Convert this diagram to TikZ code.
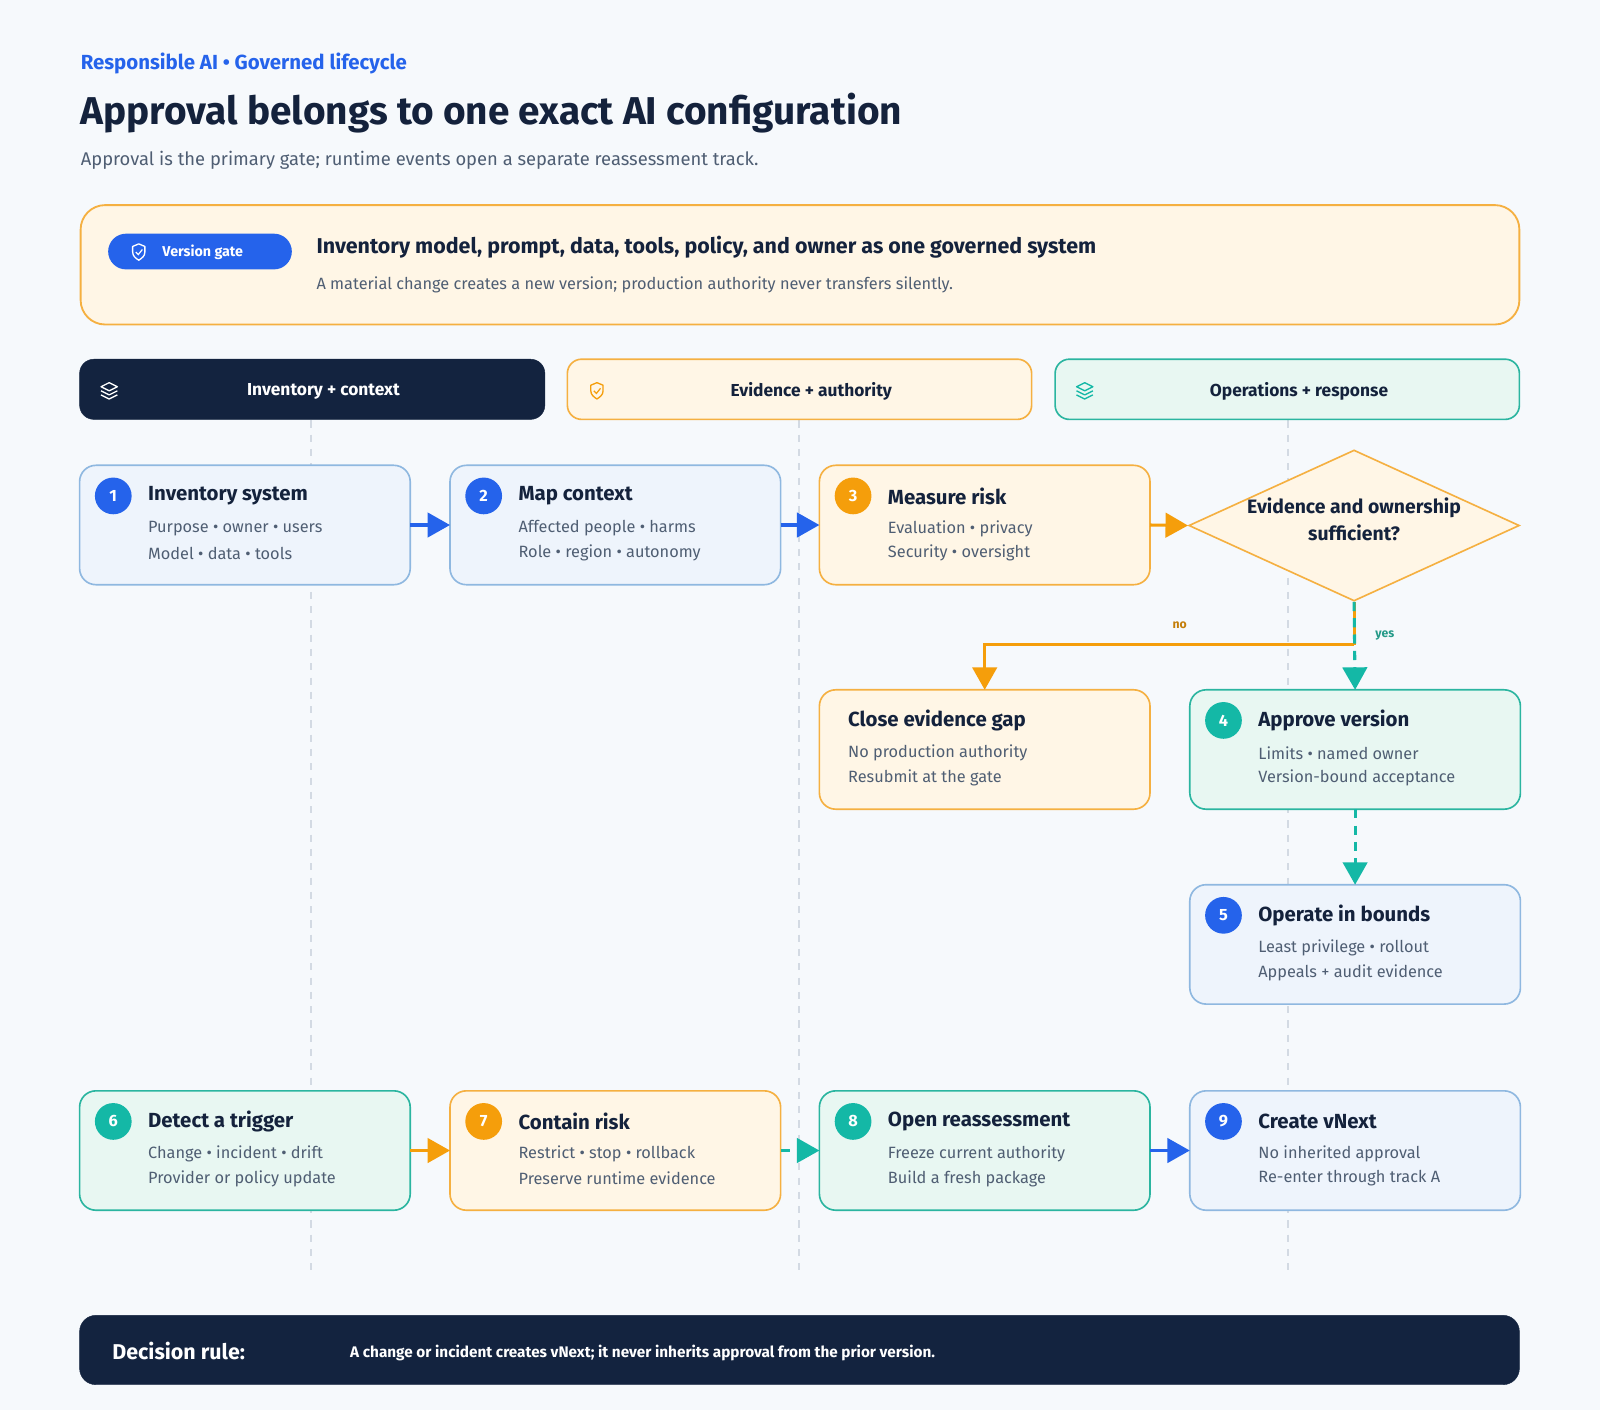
\documentclass[tikz,border=0pt]{standalone}
\usepackage{fontspec}
\setmainfont{Fira Sans}
\usetikzlibrary{arrows.meta,shapes.geometric}
\definecolor{navy}{HTML}{13233F}
\definecolor{ink}{HTML}{14223C}
\definecolor{sub}{HTML}{4F5E73}
\definecolor{bblue}{HTML}{2563EB}
\definecolor{bfill}{HTML}{EEF4FC}
\definecolor{bline}{HTML}{8FB8E0}
\definecolor{ofill}{HTML}{FFF6E6}
\definecolor{oline}{HTML}{F5B041}
\definecolor{obadge}{HTML}{F59E0B}
\definecolor{tfill}{HTML}{E8F7F2}
\definecolor{tline}{HTML}{2BB5A0}
\definecolor{tbadge}{HTML}{14B8A6}
\definecolor{bg}{HTML}{F6F9FC}
\definecolor{lanegray}{HTML}{D3DAE3}
\tikzset{
 x=1pt,y=-1pt,
 box/.style={draw,line width=1.6pt,rounded corners=16pt},
 bbox/.style={box,fill=bfill,draw=bline},
 obox/.style={box,fill=ofill,draw=oline},
 tbox/.style={box,fill=tfill,draw=tline},
 badge/.style={circle,minimum size=36pt,inner sep=0pt,text=white,font=\fontsize{16}{18}\selectfont\bfseries},
 btitle/.style={anchor=west,inner sep=0pt,text=ink,font=\fontsize{20}{24}\selectfont\bfseries},
 bline1/.style={anchor=west,inner sep=0pt,text=sub,font=\fontsize{16}{19}\selectfont},
 arr/.style={line width=3pt,-{Triangle[length=22pt,width=24pt]}},
 lanel/.style={font=\fontsize{17}{20}\selectfont\bfseries},
}
\newcommand{\flowbox}[8]{% name style x y badgecolor num title l1 l2 -> use pgfkeys-free
}
\begin{document}
\begin{tikzpicture}
\useasboundingbox (0,0) rectangle (1568,1382);
\fill[bg] (0,0) rectangle (1568,1382);
% header
\node[anchor=west,inner sep=0pt,text=bblue,font=\fontsize{20}{24}\selectfont\bfseries] (kick) at (79,62) {Responsible AI • Governed lifecycle};
\node[anchor=west,inner sep=0pt,text=ink,font=\fontsize{38}{44}\selectfont\bfseries] (title) at (79,111) {Approval belongs to one exact AI configuration};
\node[anchor=west,inner sep=0pt,text=sub,font=\fontsize{18}{22}\selectfont] (subt) at (79,157) {Approval is the primary gate; runtime events open a separate reassessment track.};
% gate
\draw[fill=ofill,draw=oline,line width=1.8pt,rounded corners=24pt] (79,201) rectangle (1489,318);
\node[fill=bblue,rounded corners=17.5pt,minimum width=180pt,minimum height=35pt,inner sep=0pt] (pill) at (196,246.5) {};
\node[anchor=west,inner sep=0pt,text=white,font=\fontsize{14}{16}\selectfont\bfseries] (pilltxt) at (159,247) {Version gate};
\draw[white,line width=1.3pt,line join=round] (136,239)--(142,241.5)--(142,247) .. controls (142,251) and (139,253) .. (136,255) .. controls (133,253) and (130,251) .. (130,247)--(130,241.5)--cycle;
\draw[white,line width=1.2pt] (133,247)--(135.5,249.5)--(139.5,244.5);
\node[anchor=west,inner sep=0pt,text=ink,font=\fontsize{21}{25}\selectfont\bfseries] (gt) at (310,242) {Inventory model, prompt, data, tools, policy, and owner as one governed system};
\node[anchor=west,inner sep=0pt,text=sub,font=\fontsize{16}{19}\selectfont] (gs) at (310,279) {A material change creates a new version; production authority never transfers silently.};
% lane guides
\foreach \x in {305,783,1262} \draw[lanegray,line width=1.5pt,dash pattern=on 7pt off 7pt] (\x,412)--(\x,1252);
% lanes
\draw[fill=navy,draw=navy,rounded corners=14pt] (78,352) rectangle (534,411);
\node[lanel,text=white] (l1) at (317,384) {Inventory + context};
\draw[fill=ofill,draw=oline,line width=1.6pt,rounded corners=14pt] (556,352) rectangle (1011,411);
\node[lanel,text=ink] (l2) at (795,384) {Evidence + authority};
\draw[fill=tfill,draw=tline,line width=1.6pt,rounded corners=14pt] (1034,352) rectangle (1489,411);
\node[lanel,text=ink] (l3) at (1273,384) {Operations + response};
% lane icons
\foreach \cx/\col in {107/white,1063/tbadge}{
 \draw[\col,line width=1.3pt,line join=round] (\cx,375)--(\cx+8,379)--(\cx,383)--(\cx-8,379)--cycle;
 \draw[\col,line width=1.3pt,line join=round] (\cx-8,383)--(\cx,387)--(\cx+8,383);
 \draw[\col,line width=1.3pt,line join=round] (\cx-8,387)--(\cx,391)--(\cx+8,387);
}
\draw[obadge,line width=1.3pt,line join=round] (585,375)--(591,377.5)--(591,383) .. controls (591,387) and (588,389) .. (585,391) .. controls (582,389) and (579,387) .. (579,383)--(579,377.5)--cycle;
\draw[obadge,line width=1.2pt] (582,383)--(584.5,385.5)--(588.5,380.5);
% boxes
\foreach \n/\s/\x/\y/\bc/\num/\t/\la/\lb in {
 b1/bbox/78/456/bblue/1/Inventory system/Purpose • owner • users/Model • data • tools,
 b2/bbox/441/456/bblue/2/Map context/Affected people • harms/Role • region • autonomy,
 b3/obox/803/456/obadge/3/Measure risk/Evaluation • privacy/Security • oversight,
 b4/tbox/1166/676/tbadge/4/Approve version/Limits • named owner/Version-bound acceptance,
 b5/bbox/1166/867/bblue/5/Operate in bounds/Least privilege • rollout/Appeals + audit evidence,
 b6/tbox/78/1069/tbadge/6/Detect a trigger/Change • incident • drift/Provider or policy update,
 b7/obox/441/1069/obadge/7/Contain risk/Restrict • stop • rollback/Preserve runtime evidence,
 b8/tbox/803/1069/tbadge/8/Open reassessment/Freeze current authority/Build a fresh package,
 b9/bbox/1166/1069/bblue/9/Create vNext/No inherited approval/Re-enter through track A}{
 \draw[\s] (\x,\y) rectangle ++(324,117);
 \coordinate (\n w) at (\x,\y+58.5);
 \coordinate (\n e) at (\x+324,\y+58.5);
 \coordinate (\n n) at (\x+162,\y);
 \coordinate (\n s) at (\x+162,\y+117);
 \node[badge,fill=\bc] (\n badge) at (\x+33,\y+30) {\num};
 \node[btitle] (\n t) at (\x+67,\y+30) {\t};
 \node[bline1] (\n a) at (\x+67,\y+62) {\la};
 \node[bline1] (\n b) at (\x+67,\y+86) {\lb};
}
% close gap (no badge)
\draw[obox] (803,676) rectangle ++(324,117);
\coordinate (cgn) at (965,676);
\node[btitle] (cgt) at (831,706) {Close evidence gap};
\node[bline1] (cga) at (831,738) {No production authority};
\node[bline1] (cgb) at (831,762) {Resubmit at the gate};
% diamond
\node[diamond,draw=oline,fill=ofill,line width=1.6pt,minimum width=324pt,minimum height=148pt,inner sep=0pt,aspect=2.2] (dec) at (1327,515) {};
\node[align=center,text=ink,font=\fontsize{19}{27}\selectfont\bfseries] (dect) at (1327,509) {Evidence and ownership\\sufficient?};
% arrows
\draw[arr,bblue] (b1e)--(b2w);
\draw[arr,bblue] (b2e)--(b3w);
\draw[arr,obadge] (b3e)--(dec.west);
\coordinate (split) at (1327,632);
\coordinate (noturn) at (965,632);
\draw[obadge,line width=3pt] (dec.south)--(split);
\draw[arr,obadge] (split)--(noturn)--(cgn);
\draw[arr,tbadge,dash pattern=on 9pt off 7pt] (dec.south)--(b4n);
\draw[arr,tbadge,dash pattern=on 9pt off 7pt] (b4s)--(b5n);
\draw[arr,obadge] (b6e)--(b7w);
\draw[arr,tbadge,dash pattern=on 9pt off 7pt] (b7e)--(b8w);
\draw[arr,bblue] (b8e)--(b9w);
\node[text=obadge!80!black,font=\fontsize{12}{14}\selectfont\bfseries] (no) at (1156,613) {no};
\node[text=tline!85!black,font=\fontsize{12}{14}\selectfont\bfseries] (yes) at (1357,623) {yes};
% footer
\draw[fill=navy,draw=navy,rounded corners=16pt] (78,1289) rectangle (1489,1357);
\node[anchor=west,inner sep=0pt,text=white,font=\fontsize{21}{25}\selectfont\bfseries] (dr) at (110,1324) {Decision rule:};
\node[anchor=west,inner sep=0pt,text=white,font=\fontsize{15}{18}\selectfont\bfseries] (drt) at (343,1326) {A change or incident creates vNext; it never inherits approval from the prior version.};
\end{tikzpicture}
\end{document}
